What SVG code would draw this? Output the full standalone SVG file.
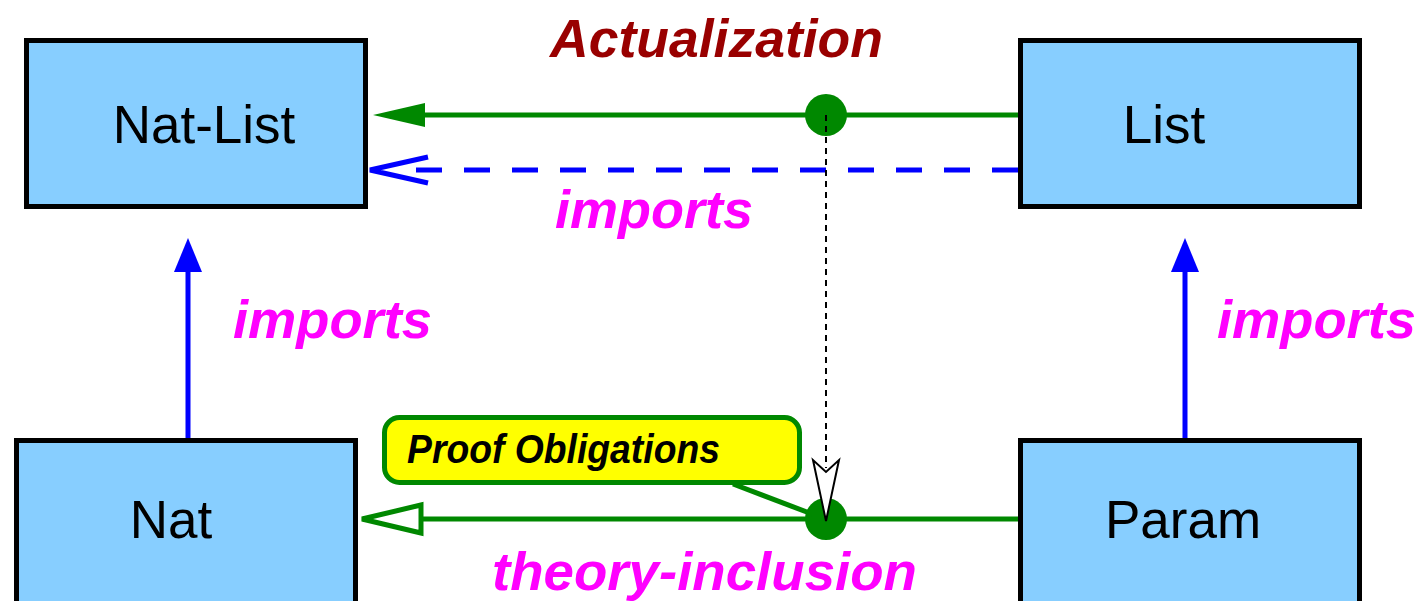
<svg xmlns="http://www.w3.org/2000/svg" width="1426" height="601" viewBox="0 0 1426 601">
<style>
.box{fill:#87CEFF;stroke:#000;stroke-width:5}
.name{font-family:"Liberation Sans",Arial,sans-serif;font-size:53px;fill:#000}
.lbl{font-family:"Liberation Sans",Arial,sans-serif;font-size:54px;font-weight:bold;font-style:italic}
.mag{fill:#ff00ff}
.g{stroke:#008800;stroke-width:5;fill:none}
.b{stroke:#0000ff;stroke-width:5;fill:none}
</style>
<rect width="1426" height="601" fill="#fff"/>
<g id="connectors">
  <!-- actualization top -->
  <line class="g" x1="1018" y1="115" x2="420" y2="115"/>
  <polygon points="373,115 425,103 425,127" fill="#008800"/>
  <circle cx="826" cy="115" r="21" fill="#008800"/>
  <!-- dashed blue imports -->
  <line class="b" x1="1018" y1="170" x2="413" y2="170" stroke-width="6" stroke-dasharray="26 22"/>
  <polyline points="428,157 370,170 428,183" class="b" stroke-width="6"/>
  <!-- vertical imports -->
  <line class="b" x1="188" y1="438" x2="188" y2="265"/>
  <polygon points="188,238 174,272 202,272" fill="#0000ff"/>
  <line class="b" x1="1185" y1="438" x2="1185" y2="265"/>
  <polygon points="1185,238 1171,272 1199,272" fill="#0000ff"/>
  <!-- theory inclusion -->
  <line class="g" x1="1018" y1="519" x2="422" y2="519"/>
  <polygon points="362,519 421,505 421,533" fill="#fff" stroke="#008800" stroke-width="5"/>
  <circle cx="826" cy="519" r="21" fill="#008800"/>
  <!-- dotted black -->
  <line x1="826" y1="115" x2="826" y2="468" stroke="#000" stroke-width="2" stroke-dasharray="6 5"/>
  <polygon points="826,521 813,460 826,472 839,460" fill="#fff" stroke="#000" stroke-width="2"/>
  <!-- callout line -->
  <line class="g" x1="733" y1="484" x2="812" y2="514"/>
</g>
<g id="natlist">
  <rect class="box" x="26.5" y="40.5" width="339" height="166"/>
  <text class="name" x="204" y="143" text-anchor="middle">Nat-List</text>
</g>
<g id="list">
  <rect class="box" x="1020.5" y="40.5" width="339" height="166"/>
  <text class="name" x="1164" y="143" text-anchor="middle">List</text>
</g>
<g id="nat">
  <rect class="box" x="16.5" y="440.5" width="339" height="180"/>
  <text class="name" x="171" y="538" text-anchor="middle">Nat</text>
</g>
<g id="param">
  <rect class="box" x="1020.5" y="440.5" width="339" height="180"/>
  <text class="name" x="1183" y="538" text-anchor="middle">Param</text>
</g>
<g id="proof">
  <rect x="384.5" y="417.5" width="415" height="65" rx="15" fill="#ffff00" stroke="#008800" stroke-width="5"/>
  <text x="407" y="463" font-family="'Liberation Sans',Arial,sans-serif" font-size="40" font-weight="bold" font-style="italic" textLength="313" lengthAdjust="spacingAndGlyphs">Proof Obligations</text>
</g>
<g id="labels">
  <text class="lbl" x="550" y="57" fill="#990000" textLength="333" lengthAdjust="spacingAndGlyphs">Actualization</text>
  <text class="lbl mag" x="555" y="228" textLength="198" lengthAdjust="spacingAndGlyphs">imports</text>
  <text class="lbl mag" x="233" y="338" textLength="199" lengthAdjust="spacingAndGlyphs">imports</text>
  <text class="lbl mag" x="1217" y="338" textLength="199" lengthAdjust="spacingAndGlyphs">imports</text>
  <text class="lbl mag" x="492" y="590" textLength="425" lengthAdjust="spacingAndGlyphs">theory-inclusion</text>
</g>
</svg>
